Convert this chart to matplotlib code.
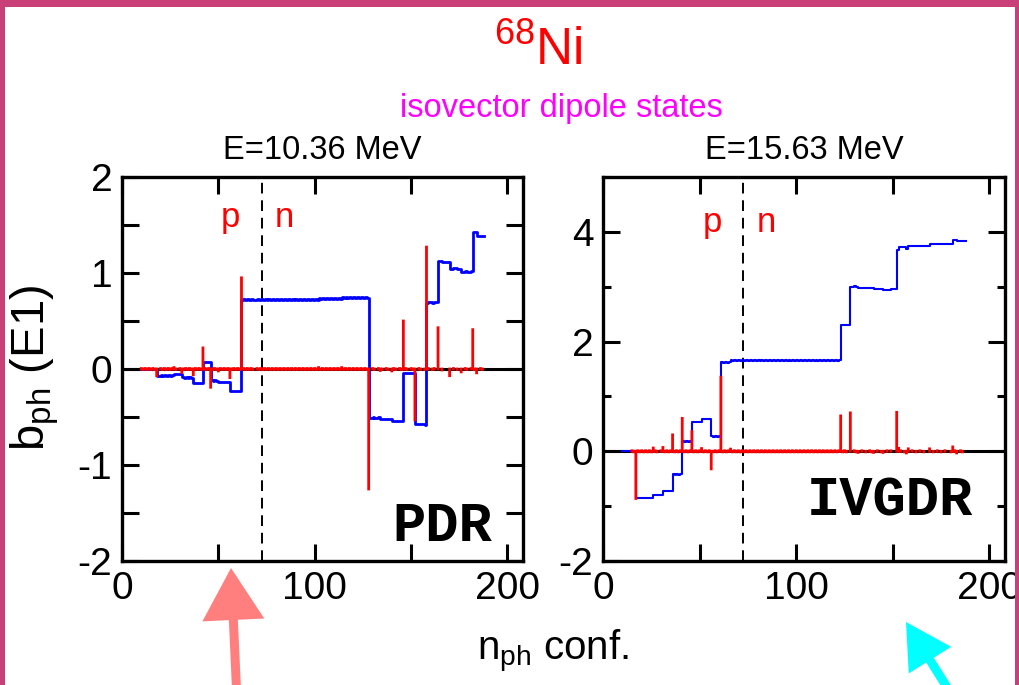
import numpy as np
import matplotlib

matplotlib.use('Agg')
import matplotlib.pyplot as plt
from matplotlib.patches import Rectangle, Polygon
from matplotlib.ticker import MultipleLocator

# configuration index (n_ph conf.) and E1 amplitude of each ph configuration
n_conf = np.arange(10, 189)

# PDR state, E = 10.36 MeV
pdr_b = [
    0.005, -0.005, 0.005, -0.005, 0.005, -0.005, 0.005, -0.005, -0.07, 0.0,
    0.005, -0.005, 0.005, -0.005, 0.005, -0.005, 0.005, 0.015, -0.005, 0.0,
    0.005, -0.035, -0.005, 0.005, -0.005, 0.005, -0.005, -0.06, 0.005, -0.005,
    0.005, -0.005, 0.22, 0.005, -0.005, 0.005, -0.19, -0.005, 0.005, -0.005,
    -0.02, 0.005, -0.005, 0.005, -0.005, 0.005, -0.09, -0.005, 0.005, -0.005,
    0.005, -0.005, 0.95, 0.005, -0.005, 0.005, -0.005, 0.005, -0.005, 0.0,
    0.005, -0.005, 0.005, -0.005, 0.005, -0.005, 0.005, -0.005, 0.005, -0.005,
    0.005, -0.005, 0.005, -0.005, 0.005, -0.005, 0.005, -0.005, 0.005, -0.005,
    0.005, -0.005, 0.005, -0.005, 0.005, -0.005, 0.005, -0.005, 0.005, -0.005,
    0.005, -0.005, 0.015, -0.005, 0.005, -0.005, 0.005, -0.005, 0.005, -0.005,
    0.005, -0.005, 0.005, -0.005, 0.015, -0.005, 0.005, -0.005, 0.005, -0.005,
    0.005, -0.005, 0.005, -0.005, 0.005, -0.005, 0.005, -0.005, -1.25, 0.0,
    0.005, -0.005, 0.0, 0.005, -0.015, -0.005, 0.0, 0.005, -0.005, 0.0,
    -0.02, 0.005, -0.005, 0.0, 0.005, -0.005, 0.50, 0.005, -0.005, 0.0,
    0.005, -0.005, -0.53, 0.0, 0.005, -0.005, 0.0, -0.005, 1.27, 0.005,
    0.0, -0.005, 0.005, 0.0, 0.43, 0.0, -0.01, 0.0, 0.0, 0.0,
    -0.07, 0.0, 0.005, 0.0, -0.005, 0.0, -0.03, 0.0, 0.005, -0.005,
    0.0, 0.005, 0.41, -0.005, -0.04, 0.0, 0.005, -0.005, 0.0,
]

# IVGDR state, E = 15.63 MeV
ivgdr_b = [
    0.0, 0.0, 0.0, 0.0, 0.0, 0.01, -0.01, -0.86, 0.01, -0.01,
    0.01, -0.01, 0.01, -0.01, 0.01, -0.01, 0.06, 0.01, -0.01, 0.0,
    0.01, 0.07, -0.01, 0.01, -0.01, 0.01, 0.30, -0.01, 0.01, -0.01,
    0.01, 0.60, -0.01, 0.01, -0.01, 0.01, 0.36, -0.01, 0.01, -0.01,
    0.01, 0.05, -0.01, 0.01, -0.01, 0.01, -0.32, -0.01, 0.01, -0.01,
    0.01, 1.35, -0.01, 0.01, -0.01, 0.01, 0.04, -0.01, 0.01, -0.01,
    0.01, -0.01, 0.01, -0.01, 0.01, -0.01, 0.01, -0.01, 0.01, -0.01,
    0.01, -0.01, 0.01, -0.01, 0.01, -0.01, 0.01, -0.01, 0.01, -0.01,
    0.01, -0.01, 0.01, -0.01, 0.01, -0.01, 0.01, -0.01, 0.01, -0.01,
    0.01, -0.01, 0.01, -0.01, 0.01, -0.01, 0.01, -0.01, 0.01, -0.01,
    0.01, -0.01, 0.01, -0.01, 0.01, -0.01, 0.01, -0.01, 0.01, -0.01,
    0.01, -0.01, 0.01, 0.645, -0.01, 0.01, -0.01, 0.0, 0.70, 0.0,
    0.01, -0.01, -0.02, 0.0, 0.01, 0.0, -0.01, 0.0, 0.01, -0.01,
    -0.02, 0.0, 0.01, 0.0, -0.01, -0.02, 0.0, 0.01, 0.0, 0.01,
    0.0, 0.0, 0.71, 0.055, 0.01, 0.0, -0.01, -0.03, 0.045, 0.0,
    0.01, 0.0, -0.01, 0.0, 0.01, 0.0, -0.01, 0.0, 0.0, 0.045,
    0.0, -0.01, 0.0, 0.01, 0.0, -0.01, 0.0, 0.01, 0.0, 0.0,
    -0.01, 0.08, 0.01, -0.03, 0.0, 0.01, -0.01, 0.0, 0.0,
]

titles = ["E=10.36 MeV", "E=15.63 MeV"]
tags = ["PDR", "IVGDR"]
split_n = 72.5   # proton / neutron configurations

plt.rcParams['font.family'] = ['Liberation Sans', 'DejaVu Sans']
plt.rcParams['axes.unicode_minus'] = False
plt.rcParams['mathtext.fontset'] = 'custom'
plt.rcParams['mathtext.rm'] = 'Liberation Sans'
plt.rcParams['mathtext.it'] = 'Liberation Sans:italic'

W, H = 1020, 685
fig = plt.figure(figsize=(W / 100, H / 100), dpi=100)
ax1 = fig.add_axes([0.1196, 0.181, 0.393, 0.5606])
ax2 = fig.add_axes([0.5912, 0.181, 0.394, 0.5606])


def draw_panel(ax, b, title, tag, tag_xy, ylim, ymaj, ymin, ymin_len, pn_y, lw_blue):
    ax.axhline(0, color='black', lw=2.2, zorder=1)
    ax.axvline(split_n, color='black', lw=1.4, ls=(0, (5.5, 3.5)), zorder=1)
    ax.plot(n_conf, np.cumsum(b), drawstyle='steps-post', color='blue', lw=lw_blue, zorder=2)
    ax.vlines(n_conf, 0, b, color='red', lw=2.0, capstyle='projecting', snap=False,
              zorder=3)
    ax.set_xlim(0, 208)
    ax.set_ylim(*ylim)
    ax.xaxis.set_major_locator(MultipleLocator(100))
    ax.xaxis.set_minor_locator(MultipleLocator(50))
    ax.yaxis.set_major_locator(MultipleLocator(ymaj))
    ax.yaxis.set_minor_locator(MultipleLocator(ymin))
    ax.tick_params(which='both', direction='in', top=True, right=True, width=2.2,
                   labelsize=28, pad=7)
    ax.tick_params(which='major', length=12)
    ax.tick_params(axis='x', which='minor', length=12)
    ax.tick_params(axis='y', which='minor', length=ymin_len)
    for s in ax.spines.values():
        s.set_linewidth(2.4)
    ax.set_title(title, fontsize=23.5, pad=13)
    ax.text(56.5, pn_y, 'p', color='red', fontsize=25, ha='center', va='baseline')
    ax.text(84.5, pn_y, 'n', color='red', fontsize=25, ha='center', va='baseline')
    ax.text(tag_xy[0], tag_xy[1], tag, transform=ax.transAxes, fontsize=40,
            family='Liberation Mono', weight='bold', ha='center', va='center')


draw_panel(ax1, pdr_b, titles[0], tags[0], (0.80, 0.09), (-2, 2), 1, 0.5, 12, 1.48, 2.0)
draw_panel(ax2, ivgdr_b, titles[1], tags[1], (0.715, 0.155), (-2, 5), 2, 1, 6, 4.0, 1.5)

# common labels
fig.text(35 / W, 1 - 368 / H, r'b$_{\mathrm{ph}}$ (E1)', rotation=90,
         fontsize=34, ha='center', va='center')
fig.text(553 / W, 1 - 660 / H, r'n$_{\mathrm{ph}}$ conf.', fontsize=29,
         ha='center', va='baseline')
fig.text(538 / W, 1 - 65 / H, r'$^{68}$Ni', color='red', fontsize=37,
         ha='center', va='baseline')
fig.text(561 / W, 1 - 117 / H, 'isovector dipole states', color='#FF00FF',
         fontsize=23.5, ha='center', va='baseline')

# slide frame
frame_col = '#C94079'
fig.add_artist(Rectangle((0, 1 - 7 / H), 1, 7 / H, transform=fig.transFigure,
                         color=frame_col, lw=0))
fig.add_artist(Rectangle((0, 0), 5 / W, 1, transform=fig.transFigure,
                         color=frame_col, lw=0))
fig.add_artist(Rectangle((1 - 5 / W, 0), 5 / W, 1, transform=fig.transFigure,
                         color=frame_col, lw=0))


# hand drawn arrows, given in image pixels (y downwards)
def add_arrow(tip, tail, head_len, head_w, shaft_w, color):
    tip = np.array(tip, float)
    tail = np.array(tail, float)
    d = (tail - tip) / np.hypot(*(tail - tip))
    p = np.array([-d[1], d[0]])
    base = tip + d * head_len
    pts = [tip, base + p * head_w / 2, base + p * shaft_w / 2, tail + p * shaft_w / 2,
           tail - p * shaft_w / 2, base - p * shaft_w / 2, base - p * head_w / 2]
    pts = [(x / W, 1 - y / H) for x, y in pts]
    fig.add_artist(Polygon(pts, closed=True, transform=fig.transFigure,
                           facecolor=color, edgecolor='none', clip_on=False))


add_arrow((231, 568), (237, 700), 52, 62, 9, '#FF7F7F')
add_arrow((906, 622), (955, 700), 45, 50, 9, '#00FFFF')

plt.savefig('out.png', dpi=100)
